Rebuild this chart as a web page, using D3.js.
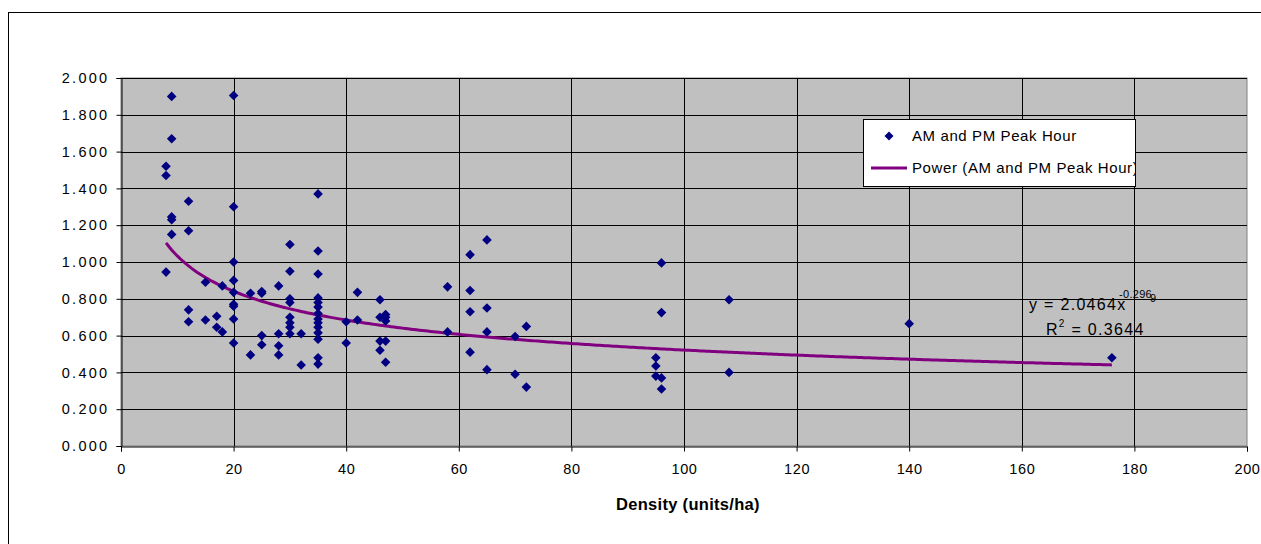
<!DOCTYPE html>
<html>
<head>
<meta charset="utf-8">
<script src="https://cdn.jsdelivr.net/npm/d3@7"></script>
<style>
  html, body { margin: 0; padding: 0; background: #fff; }
  svg { display: block; font-family: "Liberation Sans", Arial, sans-serif; }
</style>
</head>
<body>
<svg id="chart" width="1261" height="544"></svg>
<script>
// ---- data ----
const density = [
  8, 8, 8,
  9, 9, 9, 9, 9,
  12, 12, 12, 12,
  15, 15,
  17, 17,
  18, 18,
  20, 20, 20, 20, 20, 20, 20, 20, 20,
  23, 23,
  25, 25, 25, 25,
  28, 28, 28, 28,
  30, 30, 30, 30, 30, 30, 30, 30,
  32, 32,
  35, 35, 35, 35, 35, 35, 35, 35, 35, 35, 35, 35, 35, 35,
  40, 40,
  42, 42,
  46, 46, 46, 46,
  47, 47, 47, 47, 47,
  58, 58,
  62, 62, 62, 62,
  65, 65, 65, 65,
  70, 70,
  72, 72,
  95, 95, 95,
  96, 96, 96, 96,
  108, 108,
  140,
  176
];
const peakRate = [
  1.52, 1.47, 0.945,
  1.90, 1.67, 1.245, 1.23, 1.15,
  1.33, 1.17, 0.74, 0.675,
  0.89, 0.685,
  0.705, 0.645,
  0.87, 0.62,
  1.905, 1.30, 1.00, 0.90, 0.835, 0.77, 0.76, 0.69, 0.56,
  0.83, 0.495,
  0.84, 0.83, 0.60, 0.55,
  0.87, 0.61, 0.545, 0.495,
  1.095, 0.95, 0.80, 0.78, 0.70, 0.67, 0.645, 0.61,
  0.61, 0.44,
  1.37, 1.06, 0.935, 0.805, 0.78, 0.755, 0.72, 0.69, 0.67, 0.645, 0.615, 0.58, 0.48, 0.445,
  0.675, 0.56,
  0.835, 0.685,
  0.795, 0.70, 0.57, 0.52,
  0.715, 0.70, 0.68, 0.57, 0.455,
  0.865, 0.62,
  1.04, 0.845, 0.73, 0.51,
  1.12, 0.75, 0.62, 0.415,
  0.595, 0.39,
  0.65, 0.32,
  0.48, 0.435, 0.38,
  0.995, 0.725, 0.37, 0.31,
  0.795, 0.40,
  0.665,
  0.48
];
const xTicks = [0, 20, 40, 60, 80, 100, 120, 140, 160, 180, 200];
const yTicks = [0, 0.2, 0.4, 0.6, 0.8, 1.0, 1.2, 1.4, 1.6, 1.8, 2.0];
const seriesName = "AM and PM Peak Hour";
const trendName = "Power (AM and PM Peak Hour)";
const trendCoef = 2.0464;
const trendExp = -0.2969;
const trendR2 = 0.3644;
const xTitle = "Density (units/ha)";

// ---- layout ----
const svg = d3.select("#chart");
const plot = { left: 121, right: 1247, top: 78, bottom: 446 };
const x = d3.scaleLinear().domain([0, 200]).range([plot.left, plot.right]);
const y = d3.scaleLinear().domain([0, 2]).range([plot.bottom, plot.top]);

// outer chart border
svg.append("rect").attr("x", 8.5).attr("y", 12.5).attr("width", 1300).attr("height", 600)
  .attr("fill", "#fff").attr("stroke", "#000").attr("stroke-width", 1);

// plot background
svg.append("rect").attr("x", plot.left).attr("y", plot.top)
  .attr("width", plot.right - plot.left).attr("height", plot.bottom - plot.top)
  .attr("fill", "#c0c0c0").attr("stroke", "#808080").attr("stroke-width", 1);

// gridlines
const grid = svg.append("g");
grid.selectAll("line.h").data(yTicks.slice(1)).join("line")
  .attr("x1", plot.left).attr("x2", plot.right)
  .attr("y1", d => Math.round(y(d)) + 0.5).attr("y2", d => Math.round(y(d)) + 0.5)
  .attr("stroke", "#000").attr("stroke-width", 1);
grid.selectAll("line.v").data(xTicks.slice(1, -1)).join("line")
  .attr("y1", plot.top).attr("y2", plot.bottom)
  .attr("x1", d => Math.round(x(d)) + 0.5).attr("x2", d => Math.round(x(d)) + 0.5)
  .attr("stroke", "#000").attr("stroke-width", 1);

// axes
const yAxis = svg.append("g").attr("transform", `translate(${plot.left + 0.5},0)`)
  .call(d3.axisLeft(y).tickValues(yTicks).tickFormat(d3.format(".3f")).tickSize(5).tickPadding(7));
const xAxis = svg.append("g").attr("transform", `translate(0,${plot.bottom + 0.5})`)
  .call(d3.axisBottom(x).tickValues(xTicks).tickFormat(d3.format("d")).tickSize(5).tickPadding(12));
[yAxis, xAxis].forEach(g => {
  g.select(".domain").attr("stroke", "#000");
  g.selectAll(".tick line").attr("stroke", "#000");
  g.selectAll(".tick text").attr("fill", "#000")
    .style("font-family", "'Liberation Sans', Arial, sans-serif");
});
yAxis.selectAll(".tick text").style("font-size", "14.5px").style("letter-spacing", "2.3px");
xAxis.selectAll(".tick text").style("font-size", "14.5px").style("letter-spacing", "0.6px");

// trend line
const trendXs = d3.range(d3.min(density), d3.max(density) + 0.001, 0.5);
const line = d3.line().x(d => x(d)).y(d => y(trendCoef * Math.pow(d, trendExp)));
svg.append("path").datum(trendXs).attr("d", line)
  .attr("fill", "none").attr("stroke", "#800080").attr("stroke-width", 3);

// points (diamonds)
const diamond = (cx, cy, r) => `M${cx},${cy - r}L${cx + r},${cy}L${cx},${cy + r}L${cx - r},${cy}Z`;
svg.append("g").selectAll("path").data(density.map((d, i) => [d, peakRate[i]])).join("path")
  .attr("d", d => diamond(x(d[0]), y(d[1]), 4.8))
  .attr("fill", "#000080");

// equation
const eq = svg.append("g").attr("font-size", 16).attr("fill", "#000");
const eqText = eq.append("text").attr("x", 1029).attr("y", 310).style("letter-spacing", "1.3px");
eqText.append("tspan").text(`y = ${trendCoef}x`);
eq.append("text").attr("x", 1119).attr("y", 298).attr("font-size", 11).style("letter-spacing", "0.3px")
  .text(String(trendExp).slice(0, 6));
eq.append("text").attr("x", 1150).attr("y", 302).attr("font-size", 11)
  .text(String(trendExp).slice(6));
const r2 = eq.append("text").attr("x", 1046).attr("y", 335).style("letter-spacing", "1.3px");
r2.append("tspan").text("R");
r2.append("tspan").attr("dy", -8).attr("font-size", 10).text("2");
r2.append("tspan").attr("dy", 8).text(` = ${trendR2}`);

// legend
const lg = { x: 863, y: 119, w: 272, h: 67 };
svg.append("clipPath").attr("id", "lgclip").append("rect")
  .attr("x", lg.x).attr("y", lg.y).attr("width", lg.w).attr("height", lg.h);
const legend = svg.append("g");
legend.append("rect").attr("x", lg.x + 0.5).attr("y", lg.y + 0.5).attr("width", lg.w).attr("height", lg.h)
  .attr("fill", "#fff").attr("stroke", "#000").attr("stroke-width", 1);
const lgc = legend.append("g").attr("clip-path", "url(#lgclip)");
lgc.append("path").attr("d", diamond(889, 136, 4.5)).attr("fill", "#000080");
lgc.append("text").attr("x", 912).attr("y", 141).attr("font-size", 15).style("letter-spacing", "0.6px")
  .text(seriesName);
lgc.append("line").attr("x1", 871).attr("x2", 907).attr("y1", 168).attr("y2", 168)
  .attr("stroke", "#800080").attr("stroke-width", 3);
lgc.append("text").attr("x", 912).attr("y", 173).attr("font-size", 15).style("letter-spacing", "0.6px")
  .text(trendName);

// x title
svg.append("text").attr("x", 616).attr("y", 510).attr("font-size", 16.5)
  .attr("font-weight", "bold").style("letter-spacing", "0.3px")
  .text(xTitle);
</script>
</body>
</html>
